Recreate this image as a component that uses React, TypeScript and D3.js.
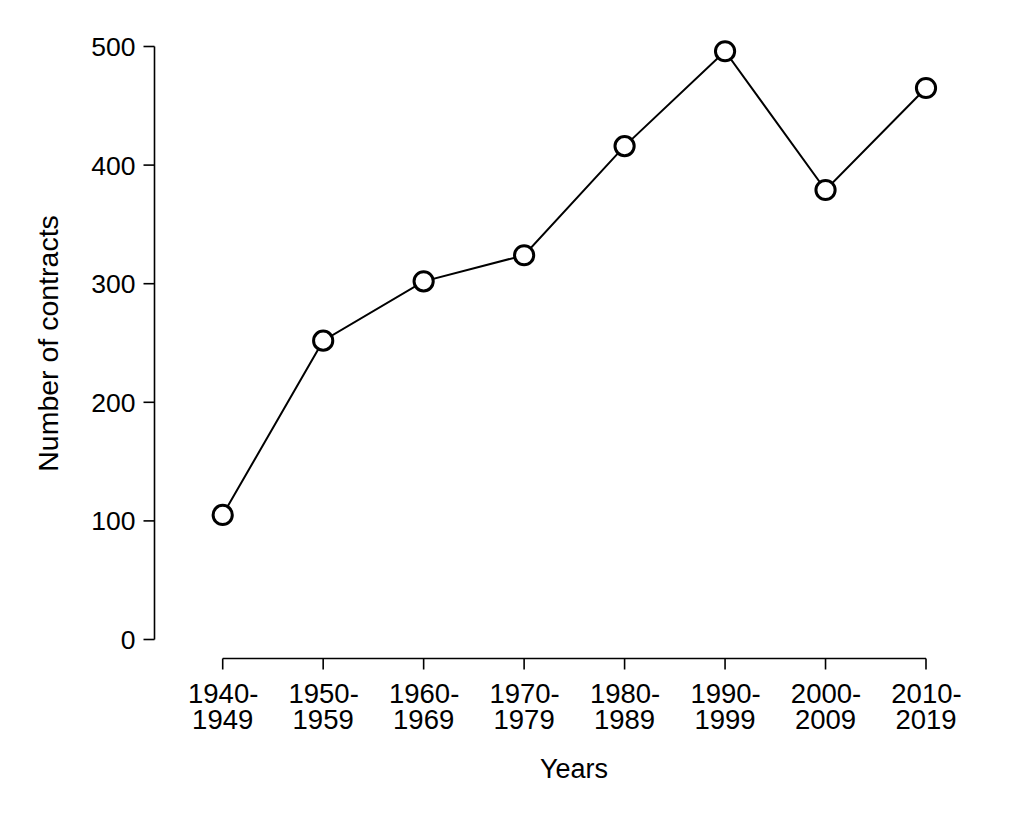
import React from "react";
import * as d3 from "d3";

const categories = ["1940-1949", "1950-1959", "1960-1969", "1970-1979", "1980-1989", "1990-1999", "2000-2009", "2010-2019"];
const values = [105, 252, 302, 324, 416, 496, 379, 465];
const yTicks = [0, 100, 200, 300, 400, 500];

export default function App() {
  const W = 1024, H = 819;
  const x = d3.scalePoint<string>().domain(categories).range([222.7, 926]);
  const y = d3.scaleLinear().domain([0, 500]).range([639.5, 46.5]);
  const line = d3.line<number>().x((_, i) => x(categories[i])!).y((d) => y(d));
  const font = "Liberation Sans, Arial, sans-serif";
  const axisX = 154.5;
  const axisY = 658.5;
  return (
    <svg width={W} height={H} style={{ position: "absolute", left: 0, top: 0, background: "#fff" }} fontFamily={font}>
      <rect width={W} height={H} fill="#fff" />
      {/* y axis */}
      <line x1={axisX} x2={axisX} y1={y(0)} y2={y(500)} stroke="#000" strokeWidth={1.6} />
      {yTicks.map((t) => (
        <g key={t}>
          <line x1={axisX - 11} x2={axisX} y1={y(t)} y2={y(t)} stroke="#000" strokeWidth={1.6} />
          <text x={axisX - 19} y={y(t) + 9.5} textAnchor="end" fontSize={26.5}>{t}</text>
        </g>
      ))}
      {/* x axis */}
      <line x1={x(categories[0])} x2={x(categories[categories.length - 1])} y1={axisY} y2={axisY} stroke="#000" strokeWidth={1.6} />
      {categories.map((c) => {
        const [a, b] = c.split("-");
        return (
          <g key={c}>
            <line x1={x(c)} x2={x(c)} y1={axisY} y2={axisY + 11} stroke="#000" strokeWidth={1.6} />
            <text y={703} textAnchor="middle" fontSize={27.5}>
              <tspan x={x(c)! + 0.5}>{a}-</tspan>
              <tspan x={x(c)!} y={729}>{b}</tspan>
            </text>
          </g>
        );
      })}
      <text x={574} y={778} textAnchor="middle" fontSize={27}>Years</text>
      <text transform={`translate(58,343.5) rotate(-90)`} textAnchor="middle" fontSize={28.5}>Number of contracts</text>
      <path d={line(values) || ""} fill="none" stroke="#000" strokeWidth={2} />
      {values.map((v, i) => (
        <circle key={i} cx={x(categories[i])} cy={y(v)} r={9.6} fill="#fff" stroke="#000" strokeWidth={3} />
      ))}
    </svg>
  );
}
